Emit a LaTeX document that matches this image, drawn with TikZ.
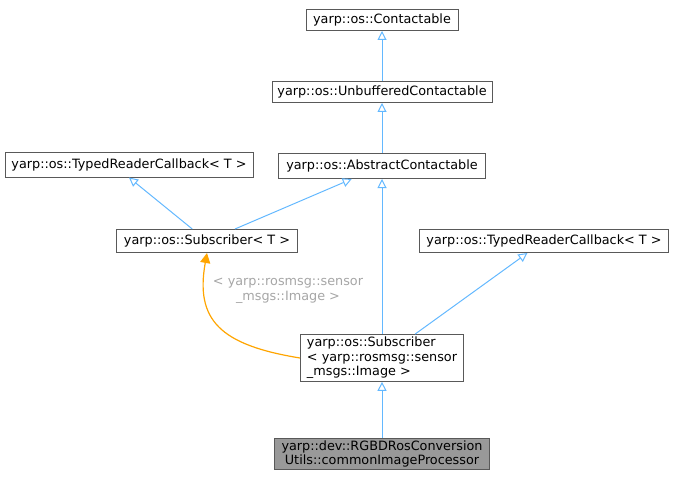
\documentclass[tikz,border=0pt]{standalone}
\usepackage{fontspec}
\setmainfont{DejaVu Sans}
\usetikzlibrary{arrows.meta,positioning}
\definecolor{edgeblue}{HTML}{63B8FF}
\definecolor{edgeorange}{HTML}{FFA500}
\definecolor{boxgray}{HTML}{999999}
\tikzset{
  classbox/.style={rectangle,draw=black!65,line width=1pt,fill=white,inner sep=2.5pt,font=\fontsize{12.8}{14.5}\selectfont,align=left},
  inherit/.style={draw=edgeblue,line width=1pt,-{Triangle[open,length=9pt,width=9pt]}},
  template/.style={draw=edgeorange,line width=1.2pt,-{Triangle[length=10pt,width=10pt,fill=edgeorange]}}
}
\begin{document}
\begin{tikzpicture}[x=1pt,y=-1pt]
    \useasboundingbox (0,0) rectangle (676,481);
    \node [classbox,minimum height=21pt,minimum width=152pt] (contactable) at (382,20) {yarp::os::Contactable};
    \node [classbox,minimum height=21pt,minimum width=220pt] (unbuffered) at (382,92) {yarp::os::UnbufferedContactable};
    \node [classbox,minimum height=25pt,minimum width=207pt] (abstract) at (382,166) {yarp::os::AbstractContactable};
    \node [classbox,minimum height=24pt,minimum width=248pt] (readerLeft) at (129,165) {yarp::os::TypedReaderCallback< T >};
    \node [classbox,minimum height=23pt,minimum width=181pt] (subscriberT) at (207,241) {yarp::os::Subscriber< T >};
    \node [classbox,minimum height=23pt,minimum width=249pt] (readerRight) at (544,241) {yarp::os::TypedReaderCallback< T >};
    \node [classbox,minimum width=163pt] (subscriberImg) at (382,358) {yarp::os::Subscriber\\< yarp::rosmsg::sensor\\\_msgs::Image >};
    \node [classbox,fill=boxgray,align=center,minimum width=215pt] (processor) at (382,454) {yarp::dev::RGBDRosConversion\\Utils::commonImageProcessor};
    \node [font=\fontsize{12.8}{14.5}\selectfont,text=black!35,align=center] (tmplLabel) at (288,291) {< yarp::rosmsg::sensor\\\_msgs::Image >};
    \draw [inherit] (unbuffered) -- (contactable);
    \draw [inherit] (abstract) -- (unbuffered);
    \draw [inherit] (subscriberT) -- (readerLeft.south);
    \draw [inherit] (subscriberT) -- (abstract);
    \draw [inherit] (subscriberImg) -- (abstract);
    \draw [inherit] (subscriberImg) -- (readerRight);
    \draw [inherit] (processor) -- (subscriberImg);
    \draw [template] (subscriberImg.west) .. controls (220,345) and (195,320) .. (subscriberT.south);
  \end{tikzpicture}
\end{document}
